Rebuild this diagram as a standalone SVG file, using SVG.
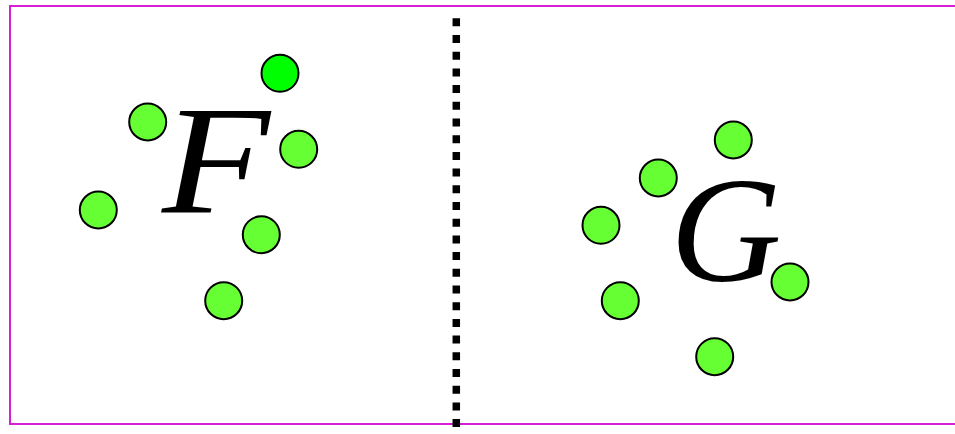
<svg xmlns="http://www.w3.org/2000/svg" width="955" height="434" viewBox="0 0 955 434">
<style>
.frame{fill:none;stroke:#d41fd4;stroke-width:2}
.sep{stroke:#000;stroke-width:7.5;stroke-dasharray:8 8.7}
.c{fill:#66ff33;stroke:#000;stroke-width:2}
.c2{fill:#00ff00;stroke:#000;stroke-width:2}
.lbl{font-family:"Liberation Serif","DejaVu Serif",serif;font-style:italic;fill:#000}
</style>
<rect width="955" height="434" fill="#fff"/>
<path class="frame" d="M960,6 H10 V424 H960"/>
<g id="connectors">
<line class="sep" x1="456.3" y1="18.3" x2="456.3" y2="434"/>
</g>
<g id="F">
<text class="lbl" transform="translate(162,213) scale(1.14,1)" x="0" y="0" font-size="155">F</text>
</g>
<g id="G">
<text class="lbl" transform="translate(670,281) scale(1.03,1)" x="0" y="0" font-size="150">G</text>
</g>
<g id="f1"><circle class="c2" cx="280" cy="73.3" r="18.5"/></g>
<g id="f2"><circle class="c" cx="147.7" cy="122" r="18.5"/></g>
<g id="f3"><circle class="c" cx="298.7" cy="149.3" r="18.5"/></g>
<g id="f4"><circle class="c" cx="98.3" cy="210" r="18.5"/></g>
<g id="f5"><circle class="c" cx="261.3" cy="234.7" r="18.5"/></g>
<g id="f6"><circle class="c" cx="223.7" cy="300.7" r="18.5"/></g>
<g id="g1"><circle class="c" cx="733.3" cy="140" r="18.5"/></g>
<g id="g2"><circle class="c" cx="658.3" cy="178" r="18.5"/></g>
<g id="g3"><circle class="c" cx="601" cy="225.3" r="18.5"/></g>
<g id="g4"><circle class="c" cx="620.3" cy="300.7" r="18.5"/></g>
<g id="g5"><circle class="c" cx="790" cy="282" r="18.5"/></g>
<g id="g6"><circle class="c" cx="714.7" cy="356.7" r="18.5"/></g>
</svg>
